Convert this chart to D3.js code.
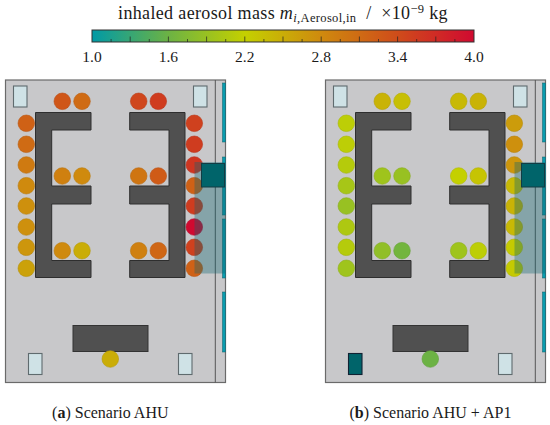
<!DOCTYPE html>
<html>
<head>
<meta charset="utf-8">
<script src="https://cdn.jsdelivr.net/npm/d3@7"></script>
<style>
body { margin: 0; background: #fff; }
text { font-family: "Liberation Serif", serif; fill: #1a1a1a; }
</style>
</head>
<body>
<div class="chart"></div>
<script>
// inhaled aerosol mass per seat, 1e-9 kg
const leftColumnA = [3.2, 3.1, 2.95, 2.8, 2.75, 2.75, 2.7, 2.6];
const rightColumnA = [3.5, 3.55, 3.6, 3.2, 3.55, 4.0, 3.5, 3.2];
const topRowA = [3.3, 3.1, 3.45, 3.55];
const middleRowA = [2.9, 2.8, 3.0, 3.25];
const bottomRowA = [2.8, 2.5, 2.9, 3.15];
const frontSeatA = [2.5];

const leftColumnB = [2.15, 2.15, 2.1, 2.0, 1.9, 2.05, 2.1, 1.95];
const rightColumnB = [2.65, 2.75, 2.7, 2.4, 2.45, 2.4, 2.25, 2.25];
const topRowB = [2.45, 2.35, 2.4, 2.45];
const middleRowB = [1.95, 1.9, 2.2, 2.3];
const bottomRowB = [1.85, 1.65, 1.95, 2.15];
const frontSeatB = [1.6];

const colorTicks = ["1.0", "1.6", "2.2", "2.8", "3.4", "4.0"];
const captions = [["(", "a", ") Scenario AHU"], ["(", "b", ") Scenario AHU + AP1"]];

const width = 550;
const height = 425;
const svg = d3.select(".chart").append("svg").attr("width", width).attr("height", height);

const color = d3.scaleLinear()
    .domain([1.0, 1.6, 2.2, 2.8, 3.4, 4.0])
    .range(["#009aa6", "#6cb244", "#c4d000", "#cf8a0e", "#cf4c1a", "#d00a30"]);

// colour bar
const bar_x = d3.scaleLinear().domain([1, 4]).range([92, 474]);
const defs = svg.append("defs");
const grad = defs.append("linearGradient").attr("id", "bar");
d3.range(0, 1.001, 0.05).forEach(t => {
    grad.append("stop").attr("offset", t).attr("stop-color", color(1 + 3 * t));
});
svg.append("rect").attr("x", 92).attr("y", 30).attr("width", 382).attr("height", 12)
    .attr("fill", "url(#bar)").attr("stroke", "#333").attr("stroke-width", 1);

const minor = d3.range(1, 4.001, 0.15).slice(1, -1);
svg.append("g").selectAll("line").data(minor).join("line")
    .attr("x1", d => bar_x(d)).attr("x2", d => bar_x(d))
    .attr("y1", (d, i) => i % 2 ? 36.5 : 39).attr("y2", 42)
    .attr("stroke", "#222").attr("stroke-width", 0.7);

svg.append("g").selectAll("text").data(colorTicks).join("text")
    .attr("x", d => bar_x(+d)).attr("y", 62.3)
    .attr("text-anchor", "middle").attr("font-size", 15.5).text(d => d);

const title = svg.append("text").attr("x", 283).attr("y", 18.7).attr("text-anchor", "middle")
    .attr("font-size", 18).attr("letter-spacing", 0.35);
title.append("tspan").text("inhaled aerosol mass ");
title.append("tspan").attr("font-style", "italic").text("m");
title.append("tspan").attr("font-style", "italic").attr("font-size", 12.5).attr("dy", 3).text("i");
title.append("tspan").attr("font-size", 12.5).text(",Aerosol,in");
title.append("tspan").attr("dy", -3).text("\u00a0 /\u00a0 ×10");
title.append("tspan").attr("font-size", 12.5).attr("dy", -6).text("−9");
title.append("tspan").attr("dy", 6).text(" kg");

// room layout, same scale for both panels
const seatXLeft = 26.3, seatXRight = 194.3;
const columnY = [123.3, 144.3, 165, 185.7, 206, 227, 247.3, 268.3];
const rowX = [62.3, 82, 138.7, 158.3];
const rowY = { top: 101.3, middle: 176, bottom: 250.7 };
const frontXY = [110.3, 359];

function desk(g, x1, x2, y1, y2) {
    g.append("rect").attr("x", x1).attr("y", y1).attr("width", x2 - x1).attr("height", y2 - y1)
        .attr("fill", "#505050").attr("stroke", "#333").attr("stroke-width", 1);
}

function edesk(g, path) {
    g.append("path").attr("d", d3.line()(path) + "Z")
        .attr("fill", "#505050").attr("stroke", "#2e2e2e").attr("stroke-width", 1);
}

function drawRoom(offset, seats, dark_box) {
    const g = svg.append("g").attr("transform", "translate(" + offset + ",0)");

    g.append("rect").attr("x", 5.5).attr("y", 80).attr("width", 220).attr("height", 302.5)
        .attr("fill", "#c8c8ca").attr("stroke", "#6a6a6a").attr("stroke-width", 1.2);
    g.append("line").attr("x1", 215.3).attr("x2", 215.3).attr("y1", 80).attr("y2", 382.5)
        .attr("stroke", "#555").attr("stroke-width", 1);

    // window strips
    [[83, 142], [157, 215], [219, 278], [292, 352]].forEach(s => {
        g.append("rect").attr("x", 222.5).attr("y", s[0]).attr("width", 3).attr("height", s[1] - s[0])
            .attr("fill", "#0a9cae").attr("stroke", "#0a5f6a").attr("stroke-width", 0.5);
    });

    // small boxes
    [[13.5, 86, false], [193.5, 86, false], [28.5, 353.5, dark_box], [178.5, 353.5, false]].forEach(b => {
        g.append("rect").attr("x", b[0]).attr("y", b[1]).attr("width", 13.5).attr("height", 21)
            .attr("fill", b[2] ? "#00646a" : "#cfe2e6").attr("stroke", b[2] ? "#123" : "#5f6b6e").attr("stroke-width", 1.1);
    });

    // tables
    edesk(g, [[35.5, 112.5], [91, 112.5], [91, 130], [51.7, 130], [51.7, 186], [91, 186], [91, 204], [51.7, 204],
        [51.7, 260.5], [91, 260.5], [91, 277.5], [35.5, 277.5]]);
    edesk(g, [[185, 112.5], [129.7, 112.5], [129.7, 130], [169, 130], [169, 186], [129.7, 186], [129.7, 204], [169, 204],
        [169, 260.5], [129.7, 260.5], [129.7, 277.5], [185, 277.5]]);
    desk(g, 73, 148, 325.5, 351.5);

    // seats
    const marks = [];
    seats.left.forEach((v, i) => marks.push({ x: seatXLeft, y: columnY[i], v: v }));
    seats.right.forEach((v, i) => marks.push({ x: seatXRight, y: columnY[i], v: v }));
    seats.top.forEach((v, i) => marks.push({ x: rowX[i], y: rowY.top, v: v }));
    seats.middle.forEach((v, i) => marks.push({ x: rowX[i], y: rowY.middle, v: v }));
    seats.bottom.forEach((v, i) => marks.push({ x: rowX[i], y: rowY.bottom, v: v }));
    seats.front.forEach(v => marks.push({ x: frontXY[0], y: frontXY[1], v: v }));

    g.selectAll("circle").data(marks).join("circle")
        .attr("cx", d => d.x).attr("cy", d => d.y).attr("r", 8.3)
        .attr("fill", d => color(d.v))
        .attr("stroke", d => d3.color(color(d.v)).darker(0.3)).attr("stroke-width", 0.6);

    // air handling unit and its translucent zone
    g.append("rect").attr("x", 194.5).attr("y", 162).attr("width", 30.5).attr("height", 111.5)
        .attr("fill", "#0e6470").attr("fill-opacity", 0.36);
    g.append("rect").attr("x", 201.5).attr("y", 163.5).attr("width", 23).attr("height", 23.5)
        .attr("fill", "#00646a").attr("stroke", "#123c44").attr("stroke-width", 1);
}

drawRoom(0, { left: leftColumnA, right: rightColumnA, top: topRowA, middle: middleRowA, bottom: bottomRowA, front: frontSeatA }, false);
drawRoom(320, { left: leftColumnB, right: rightColumnB, top: topRowB, middle: middleRowB, bottom: bottomRowB, front: frontSeatB }, true);

// captions
[110.3, 430.5].forEach((x, i) => {
    const t = svg.append("text").attr("x", x).attr("y", 417.7).attr("text-anchor", "middle").attr("font-size", 16);
    t.append("tspan").text(captions[i][0]);
    t.append("tspan").attr("font-weight", "bold").text(captions[i][1]);
    t.append("tspan").text(captions[i][2]);
});
</script>
</body>
</html>
